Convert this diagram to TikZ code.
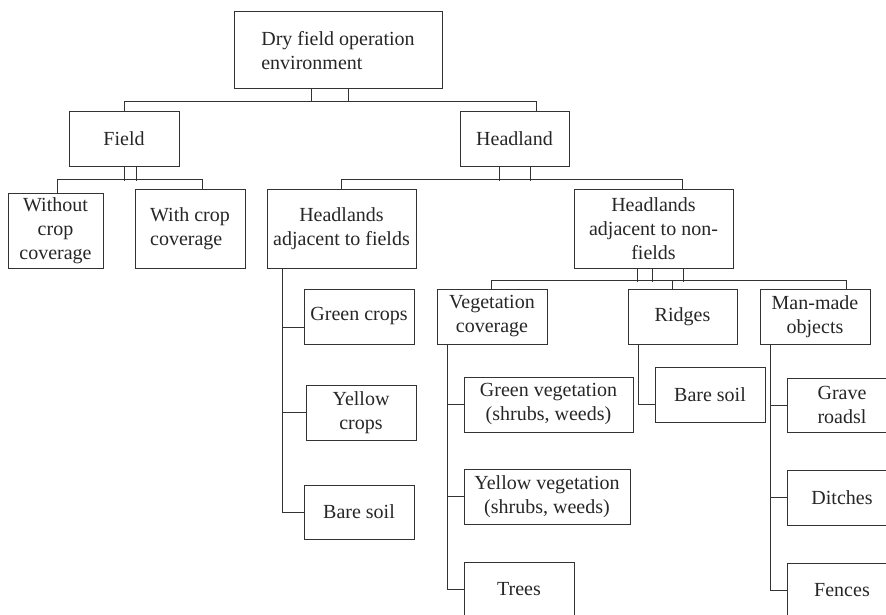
\documentclass[tikz,border=0pt]{standalone}
\usepackage{fontspec}
\setmainfont{Liberation Serif}
\begin{document}
\begin{tikzpicture}[x=1pt,y=-1pt,
  box/.style={draw=black!80, line width=1pt, inner sep=0pt, align=center,
              text=black!85, font=\fontsize{20}{24}\selectfont},
  conn/.style={draw=black!80, line width=1pt}]
\useasboundingbox (0,0) rectangle (886,615);
\clip (0,0) rectangle (886,615);

% nodes
\node[box, align=left, minimum width=208, minimum height=77] (top) at (338,50.5) {Dry field operation\\environment};
\node[box, minimum width=110, minimum height=54] (field) at (124,139) {Field};
\node[box, minimum width=109, minimum height=54] (head) at (514.5,139) {Headland};
\node[box, minimum width=95, minimum height=75] (without) at (55.5,230.5) {Without\\crop\\coverage};
\node[box, align=left, minimum width=110, minimum height=79] (with) at (190,228.5) {With crop\\coverage};
\node[box, minimum width=149, minimum height=79] (hfields) at (341.5,228.5) {Headlands\\adjacent to fields};
\node[box, minimum width=159, minimum height=79] (hnon) at (653.5,228.5) {Headlands\\adjacent to non-\\fields};
\node[box, minimum width=110, minimum height=55] (gcrops) at (359,316.5) {Green crops};
\node[box, minimum width=110, minimum height=55] (ycrops) at (361,412.5) {Yellow\\crops};
\node[box, minimum width=110, minimum height=54] (bsoil1) at (359,512) {Bare soil};
\node[box, minimum width=110, minimum height=55] (veg) at (492,316.5) {Vegetation\\coverage};
\node[box, minimum width=109, minimum height=55] (ridges) at (682.5,316.5) {Ridges};
\node[box, minimum width=110, minimum height=55] (manmade) at (815,316.5) {Man-made\\objects};
\node[box, minimum width=169, minimum height=55] (gveg) at (548.5,404.5) {Green vegetation\\(shrubs, weeds)};
\node[box, minimum width=166, minimum height=55] (yveg) at (547,496.5) {Yellow vegetation\\(shrubs, weeds)};
\node[box, minimum width=110, minimum height=55] (trees) at (519,589.5) {Trees};
\node[box, minimum width=110, minimum height=55] (bsoil2) at (710,394.5) {Bare soil};
\node[box, minimum width=110, minimum height=54] (grave) at (842,405) {Grave\\roadsl};
\node[box, minimum width=110, minimum height=55] (ditches) at (842,497.5) {Ditches};
\node[box, minimum width=110, minimum height=55] (fences) at (842,590.5) {Fences};

% top level
\draw[conn] ([xshift=78]top.south west) -- ++(0,13) ([xshift=115]top.south west) -- ++(0,13);
\draw[conn] (field.north) -- ++(0,-10) -| ([xshift=77]head.north west);

% field
\draw[conn] (field.south) -- ++(0,14) ([xshift=68]field.south west) -- ++(0,14);
\draw[conn] ([xshift=50]without.north west) -- ++(0,-13) -| ([xshift=68]with.north west);

% headland
\draw[conn] ([xshift=40]head.south west) -- ++(0,14) ([xshift=71]head.south west) -- ++(0,14);
\draw[conn] ([xshift=75]hfields.north west) -- ++(0,-9) -| ([xshift=109]hnon.north west);

% headlands adjacent to non-fields
\draw[conn] ([xshift=64]hnon.south west) -- ++(0,13)
            ([xshift=79]hnon.south west) -- ++(0,13)
            ([xshift=110]hnon.south west) -- ++(0,13);
\draw[conn] ([xshift=55]veg.north west) -- ++(0,-8) -| ([xshift=87]manmade.north west);
\draw[conn] ([xshift=45]ridges.north west) -- ++(0,-8);

% headlands adjacent to fields list
\draw[conn] ([xshift=16]hfields.south west) |- (bsoil1.west);
\draw[conn] ([yshift=-10.5]gcrops.west) -- ++(-21,0);
\draw[conn] (ycrops.west) -- ++(-23,0);

% vegetation list
\draw[conn] ([xshift=11]veg.south west) |- (trees.west);
\draw[conn] (gveg.west) -- ++(-16,0);
\draw[conn] (yveg.west) -- ++(-16,0);

% ridges
\draw[conn] ([xshift=11]ridges.south west) |- ([yshift=-9.5]bsoil2.west);

% man-made list
\draw[conn] ([xshift=11]manmade.south west) |- (fences.west);
\draw[conn] (grave.west) -- ++(-16,0);
\draw[conn] (ditches.west) -- ++(-16,0);
\end{tikzpicture}
\end{document}
